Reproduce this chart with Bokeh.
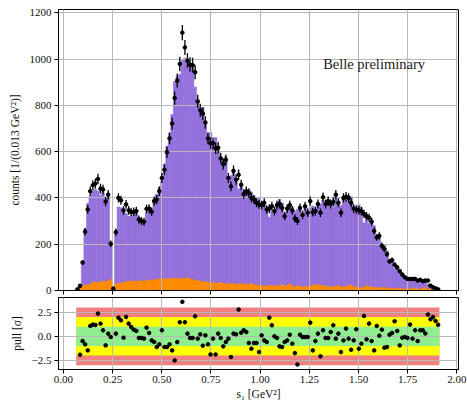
import numpy as np
from bokeh.plotting import figure
from bokeh.layouts import column
from bokeh.models import ColumnDataSource, FixedTicker, Range1d, Label
from bokeh.embed import file_html
from bokeh.resources import INLINE

nan = float("nan")

# histogram binning (GeV^2)
BIN_LO = 0.065
BIN_W = 0.013
N_BINS = 142

data_counts = [
    5, 20, 121, 254, 350, 429, 455, 462, 482, 440,
    436, 384, 414, 202, 8, 252, 400, 390, 346, 372,
    346, 339, 340, 343, 307, 300, 297, 353, 354, 340,
    386, 393, 429, 486, 522, 597, 657, 721, 831, 907,
    979, 1114, 1050, 993, 976, 974, 943, 817, 779, 764,
    726, 657, 636, 636, 614, 617, 571, 546, 564, 486,
    450, 517, 479, 500, 457, 417, 429, 421, 400, 393,
    379, 372, 369, 379, 350, 354, 364, 343, 369, 374,
    357, 321, 354, 369, 346, 311, 300, 357, 326, 364,
    336, 386, 338, 343, 374, 336, 403, 374, 386, 374,
    383, 414, 379, 336, 400, 405, 400, 379, 354, 350,
    346, 343, 331, 321, 314, 297, 257, 229, 236, 193,
    179, 157, 126, 131, 111, 100, 83, 69, 57, 50,
    50, 50, 50, 43, 46, 40, 43, 43, 21, 14,
    9, 5]

model_counts = [
    6, 28, 126, 267, 377, 407, 429, 437, 430, 412,
    423, 402, 408, 203, 0, 248, 361, 357, 349, 333,
    321, 321, 327, 333, 310, 303, 301, 336, 347, 348,
    398, 415, 446, 472, 547, 624, 678, 760, 903, 925,
    933, 994, 1003, 984, 981, 979, 879, 824, 773, 791,
    723, 678, 683, 642, 661, 610, 575, 570, 578, 491,
    496, 511, 474, 438, 449, 404, 420, 435, 426, 407,
    392, 403, 367, 387, 361, 317, 342, 343, 372, 394,
    378, 332, 362, 366, 360, 342, 351, 354, 327, 365,
    337, 358, 365, 352, 369, 374, 390, 377, 389, 365,
    360, 419, 374, 366, 408, 389, 405, 406, 362, 336,
    370, 357, 292, 327, 291, 305, 280, 213, 235, 183,
    195, 171, 124, 127, 95, 94, 92, 70, 58, 51,
    41, 52, 46, 46, 42, 36, 41, 28, 13, 7,
    4, 2]

background_counts = [
    5, 15, 22, 24, 22, 28, 35, 36, 34, 38,
    40, 37, 42, 48, 0, 30, 28, 34, 32, 38,
    40, 40, 42, 38, 40, 44, 40, 42, 44, 46,
    44, 48, 50, 48, 52, 50, 50, 54, 52, 50,
    53, 50, 52, 56, 50, 48, 44, 42, 40, 38,
    38, 35, 32, 36, 30, 32, 34, 30, 28, 30,
    28, 30, 26, 28, 30, 26, 28, 26, 30, 24,
    22, 24, 20, 20, 18, 20, 22, 18, 20, 20,
    26, 18, 22, 28, 18, 16, 20, 18, 14, 18,
    16, 20, 24, 22, 26, 20, 22, 18, 16, 14,
    18, 16, 22, 14, 16, 18, 20, 24, 14, 16,
    10, 12, 14, 20, 16, 14, 12, 14, 10, 12,
    14, 10, 8, 10, 6, 10, 8, 6, 8, 6,
    6, 8, 10, 6, 4, 10, 12, 4, 6, 2,
    2, 1]

pulls = [
    nan, -1.91, -0.49, -0.83, -1.46, 1.08, 1.22, 1.18, 2.36, 1.32,
    0.63, -0.94, 0.28, -0.07, nan, 0.28, 1.94, 1.67, -0.14, 2.01,
    1.32, 0.97, 0.69, 0.56, -0.17, -0.17, -0.24, 0.90, 0.35, -0.42,
    -0.59, -1.11, -0.83, 0.63, -1.11, -1.11, -0.83, -1.46, -2.50, -0.59,
    1.46, 3.58, 1.46, 0.28, -0.17, -0.17, 2.08, -0.24, 0.21, -0.97,
    0.10, -0.83, -1.88, -0.24, -1.88, 0.28, -0.17, -1.04, -0.59, -0.24,
    -2.15, 0.28, 0.21, 2.78, 0.38, 0.63, 0.45, -0.69, -1.28, -0.69,
    -0.69, -1.63, 0.10, -0.42, -0.59, 1.94, 1.15, 0.00, -0.17, -1.04,
    -1.11, -0.59, -0.42, 0.17, -0.76, -1.74, -2.92, 0.17, -0.07, -0.07,
    -0.07, 1.42, -1.46, -0.49, 0.28, -2.08, 0.63, -0.17, -0.17, 0.45,
    1.15, -0.24, 0.28, -1.63, -0.42, 0.80, -0.24, -1.39, -0.42, 0.73,
    -1.28, -0.76, 2.12, -0.31, 1.32, -0.49, -1.46, 1.08, 0.07, 0.69,
    -1.18, -1.11, 0.17, 0.35, 1.56, 0.56, -0.94, -0.14, -0.07, -0.17,
    1.22, -0.24, 0.63, -0.49, 0.63, 0.63, 0.30, 2.26, 1.77, 2.00,
    1.60, 1.20]

# pull bands (sigma) and their colours
band_levels = [3, 2, 1]
band_colors = ["#f08080", "#ffff00", "#90ee90"]

x_ticks = [0.0, 0.25, 0.5, 0.75, 1.0, 1.25, 1.5, 1.75, 2.0]
x_tick_labels = ["0.00", "0.25", "0.50", "0.75", "1.00", "1.25", "1.50", "1.75", "2.00"]
y_ticks = [0, 200, 400, 600, 800, 1000, 1200]
pull_ticks = [-2.5, 0.0, 2.5]
pull_tick_labels = ["\u22122.5", "0.0", "2.5"]

FONT = "Liberation Serif"
PURPLE = "#9370DB"
ORANGE = "#FF8C00"
GRID = "#b8b8b8"

edges = BIN_LO + BIN_W * np.arange(N_BINS + 1)
left = edges[:-1]
right = edges[1:]
centers = 0.5 * (left + right)
d = np.array(data_counts, dtype=float)
err = np.sqrt(d)

src = ColumnDataSource(dict(left=left, right=right, x=centers, model=model_counts,
                            bkg=background_counts, d=d, lo=d - err, hi=d + err,
                            pull=pulls))

X_RANGE = (-0.025, 2.008)


def style_axes(p):
    for ax in (p.xaxis[0], p.yaxis[0]):
        ax.axis_line_color = "black"
        ax.axis_line_width = 1
        ax.major_tick_line_color = "black"
        ax.major_tick_in = 0
        ax.major_tick_out = 4
        ax.minor_tick_line_color = None
        ax.major_label_text_font = FONT
        ax.major_label_text_font_size = "11px"
        ax.major_label_text_color = "#111111"
        ax.axis_label_text_font = FONT
        ax.axis_label_text_font_size = "11.5px"
        ax.axis_label_text_font_style = "normal"
        ax.axis_label_text_color = "#111111"
    p.outline_line_color = "black"
    p.outline_line_width = 1
    p.xgrid.grid_line_color = GRID
    p.ygrid.grid_line_color = GRID
    p.xgrid.grid_line_width = 1
    p.ygrid.grid_line_width = 1
    p.background_fill_color = "white"
    p.border_fill_color = "white"


# ---------------- main panel ----------------
p = figure(frame_width=400, frame_height=281,
           x_range=Range1d(*X_RANGE), y_range=Range1d(0, 1214),
           output_backend="svg", toolbar_location=None,
           min_border_left=58, min_border_right=9, min_border_top=9, min_border_bottom=7)
p.quad(left="left", right="right", bottom=0, top="model", source=src,
       fill_color=PURPLE, line_color=PURPLE, line_width=0.6, level="image")
p.quad(left="left", right="right", bottom=0, top="bkg", source=src,
       fill_color=ORANGE, line_color=ORANGE, line_width=0.6, level="image")
p.segment(x0="x", y0="lo", x1="x", y1="hi", source=src, line_color="black", line_width=1.3)
p.segment(x0="left", y0="d", x1="right", y1="d", source=src, line_color="black", line_width=1.3)
p.scatter(x="x", y="d", source=src, size=3.6, color="black")

style_axes(p)
p.xaxis.ticker = FixedTicker(ticks=x_ticks)
p.xaxis.major_label_text_font_size = "0px"
p.xaxis.major_label_text_color = None
p.xaxis.major_label_standoff = 0
p.yaxis.ticker = FixedTicker(ticks=y_ticks)
p.yaxis.major_label_standoff = 3
p.yaxis.axis_label = "counts [1/(0.013 GeV\u00b2)]"
p.yaxis.axis_label_standoff = 6
p.xgrid.ticker = FixedTicker(ticks=x_ticks)
p.ygrid.ticker = FixedTicker(ticks=y_ticks)

p.add_layout(Label(x=1.32, y=980, text="Belle preliminary", text_font=FONT,
                   text_font_size="14.5px", text_baseline="middle", text_color="#222222"))

# ---------------- pull panel ----------------
q = figure(frame_width=400, frame_height=72,
           x_range=p.x_range, y_range=Range1d(-3.44, 4.03),
           output_backend="svg", toolbar_location=None,
           min_border_left=58, min_border_right=9, min_border_top=0, min_border_bottom=0)
for lev, col in zip(band_levels, band_colors):
    q.quad(left=edges[0], right=edges[-1], bottom=-lev, top=lev,
           fill_color=col, line_color=None, level="image")
q.scatter(x="x", y="pull", source=src, size=3.6, color="black")

style_axes(q)
q.xaxis.ticker = FixedTicker(ticks=x_ticks)
q.xaxis.major_label_overrides = {t: l for t, l in zip(x_ticks, x_tick_labels)}
q.xaxis.major_label_standoff = 2
q.xaxis.axis_label = "s\u2081 [GeV\u00b2]"
q.xaxis.axis_label_standoff = 2
q.yaxis.ticker = FixedTicker(ticks=pull_ticks)
q.yaxis.major_label_overrides = {t: l for t, l in zip(pull_ticks, pull_tick_labels)}
q.yaxis.major_label_standoff = 3
q.yaxis.axis_label = "pull [\u03c3]"
q.yaxis.axis_label_standoff = 6
q.xgrid.ticker = FixedTicker(ticks=x_ticks)
q.ygrid.ticker = FixedTicker(ticks=pull_ticks)

layout = column(p, q, spacing=0)
open("out.html", "w").write(file_html(layout, INLINE))
